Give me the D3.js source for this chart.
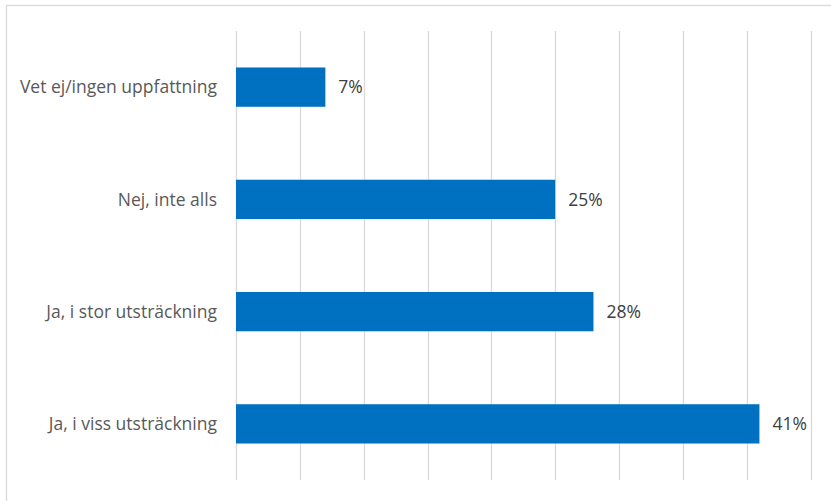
<!DOCTYPE html>
<html>
<head>
<meta charset="utf-8">
<script src="https://cdn.jsdelivr.net/npm/d3@7"></script>
<style>
  body { margin: 0; background: #fff; }
  text { font-family: "Open Sans", "Noto Sans", sans-serif; }
</style>
</head>
<body>
<script>
// data, top to bottom
const categories = ["Vet ej/ingen uppfattning", "Nej, inte alls", "Ja, i stor utsträckning", "Ja, i viss utsträckning"];
const values = [7, 25, 28, 41];
const ticks = [0, 5, 10, 15, 20, 25, 30, 35, 40, 45];

const svgWidth = 831,
  svgHeight = 501,
  margin = { top: 31, right: 20, bottom: 21, left: 236 },
  width = 810.5 - margin.left,
  height = svgHeight - margin.top - margin.bottom;

const svg = d3.select('body')
  .append('svg')
  .attr('width', svgWidth)
  .attr('height', svgHeight);

// outer chart border
svg.append('rect')
  .attr('x', 6.5)
  .attr('y', 5.5)
  .attr('width', 840)
  .attr('height', 510)
  .attr('fill', 'none')
  .attr('stroke', '#d9d9d9')
  .attr('stroke-width', 1.3);

const xScale = d3.scaleLinear()
  .domain([0, 45])
  .range([0, width]);

const yScale = d3.scaleBand()
  .domain(categories)
  .range([0, height])
  .paddingInner(0.65)
  .paddingOuter(0.325);

const g = svg.append('g')
  .attr('transform', `translate(${margin.left},${margin.top})`);

// vertical gridlines
g.append('g')
  .selectAll('line')
  .data(ticks)
  .enter().append('line')
  .attr('x1', d => Math.round(xScale(d)) + 0.5)
  .attr('x2', d => Math.round(xScale(d)) + 0.5)
  .attr('y1', 0)
  .attr('y2', height)
  .attr('stroke', '#d9d9d9')
  .attr('stroke-width', 1.3);

// category labels
g.append('g')
  .selectAll('text')
  .data(categories)
  .enter().append('text')
  .text(d => d)
  .attr('x', -19)
  .attr('y', d => yScale(d) + yScale.bandwidth() / 2)
  .attr('dy', '0.35em')
  .attr('text-anchor', 'end')
  .attr('font-size', 17.5)
  .attr('fill', '#595959');

const bars = g.append('g')
  .selectAll('g')
  .data(values)
  .enter().append('g');

bars.append('rect')
  .attr('x', 0)
  .attr('y', (d, i) => yScale(categories[i]))
  .attr('width', d => xScale(d))
  .attr('height', yScale.bandwidth())
  .attr('fill', '#0070c0');

bars.append('text')
  .text(d => `${d}%`)
  .attr('x', d => xScale(d) + 13)
  .attr('y', (d, i) => yScale(categories[i]) + yScale.bandwidth() / 2)
  .attr('dy', '0.35em')
  .attr('font-size', 17.5)
  .attr('fill', '#404040');
</script>
</body>
</html>
